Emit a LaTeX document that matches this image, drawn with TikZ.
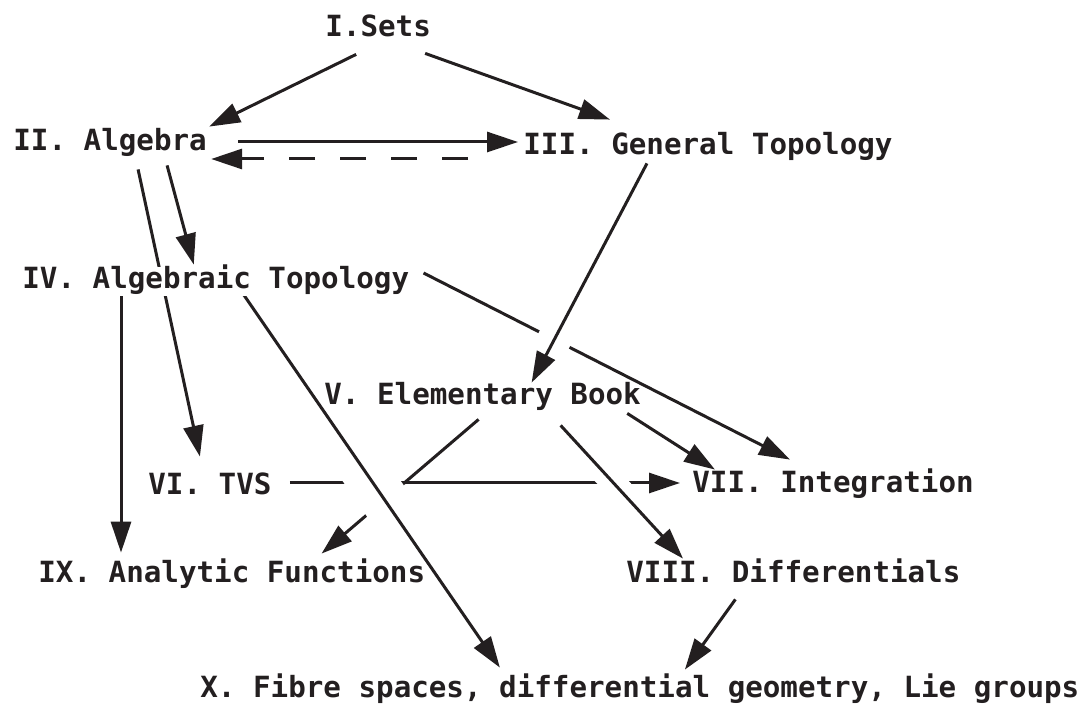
\documentclass[tikz,border=0pt]{standalone}
\usepackage{fontspec}
\setmonofont{DejaVu Sans Mono}
\usepackage{tikz}
\usetikzlibrary{arrows.meta,backgrounds}
\definecolor{ink}{HTML}{231F20}
\tikzset{
	book/.style={anchor=base west,inner sep=0pt,text height=11pt,text depth=3.5pt,
		font=\ttfamily\bfseries\fontsize{14.6}{17}\selectfont,text=ink},
	dep/.style={draw=ink,line width=1.5pt,-{Triangle[length=15.5pt,width=10pt]}},
	bridge/.style={preaction={draw=white,line width=#1,-}}, % white halo cuts the lines drawn before
}

\begin{document}
\begin{tikzpicture}[x=0.5pt,y=-0.5pt]
	\useasboundingbox (0,0) rectangle (1083,705);
	
	% the books, placed at their baselines
	\node[book] (sets) at (325,37) {I.Sets};
	\node[book] (alg) at (13,151) {II. Algebra};
	\node[book] (top) at (523,155) {III. General Topology};
	\node[book,fill=white] (algtop) at (22,289) {IV. Algebraic Topology};
	\node[book] (elem) at (324,405) {V. Elementary Book};
	\node[book] (tvs) at (148,495) {VI. TVS};
	\node[book] (integ) at (692,493) {VII. Integration};
	\node[book] (diff) at (626,583) {VIII. Differentials};
	\node[book] (anal) at (38,583) {IX. Analytic Functions};
	\node[book] (fibre) at (200,698) {X. Fibre spaces, differential geometry, Lie groups};
	
	\begin{pgfonlayer}{background}
	% lines that get broken at a crossing
	\draw[dep] ([shift={(14,-8.5)}]algtop.east) -- ([shift={(-43,-11)}]integ.north);
	\draw[dep] ([shift={(18,-4.5)}]tvs.east) -- ([shift={(-12,-2.5)}]integ.west);
	\draw[dep] ([shift={(-4,7)}]elem.south) -- ([shift={(-104,-7)}]anal.north east);
	
	% lines that pass over them
	\draw[dep,bridge=17pt] ([shift={(-61,1)}]top.south) -- ([shift={(49,0)}]elem.north);
	\draw[dep,bridge=12.5pt] ([shift={(78,13)}]elem.south) -- ([shift={(57,-2)}]diff.north west);
	\draw[dep,bridge=24pt] ([shift={(27,-3)}]algtop.south) -- ([shift={(-140,-8)}]fibre.north);
	
	% the other dependencies
	\draw[dep] ([shift={(-22,10)}]sets.south) -- ([shift={(2,-2)}]alg.north east);
	\draw[dep] ([shift={(47,9)}]sets.south) -- ([shift={(-98,-13)}]top.north);
	\draw[dep] ([shift={(31,-1.5)}]alg.east) -- ([shift={(-5,-5.5)}]top.west);
	\draw[dep,dash pattern=on 13pt off 12.5pt] ([shift={(-55,11.5)}]top.west) -- ([shift={(4,15.5)}]alg.east);
	\draw[dep] ([shift={(57,7)}]alg.south) -- ([shift={(-22,-2)}]algtop.north);
	\draw[dep] ([shift={(28,11)}]alg.south) -- ([shift={(-10,-16)}]tvs.north);
	\draw[dep] ([shift={(99,-4)}]algtop.south west) -- ([shift={(83,-8)}]anal.north west);
	\draw[dep] ([shift={(-14,1)}]elem.south east) -- ([shift={(23,-1)}]integ.north west);
	\draw[dep] ([shift={(-58,9)}]diff.south) -- ([shift={(45,-6)}]fibre.north);
	\end{pgfonlayer}
\end{tikzpicture}
\end{document}
